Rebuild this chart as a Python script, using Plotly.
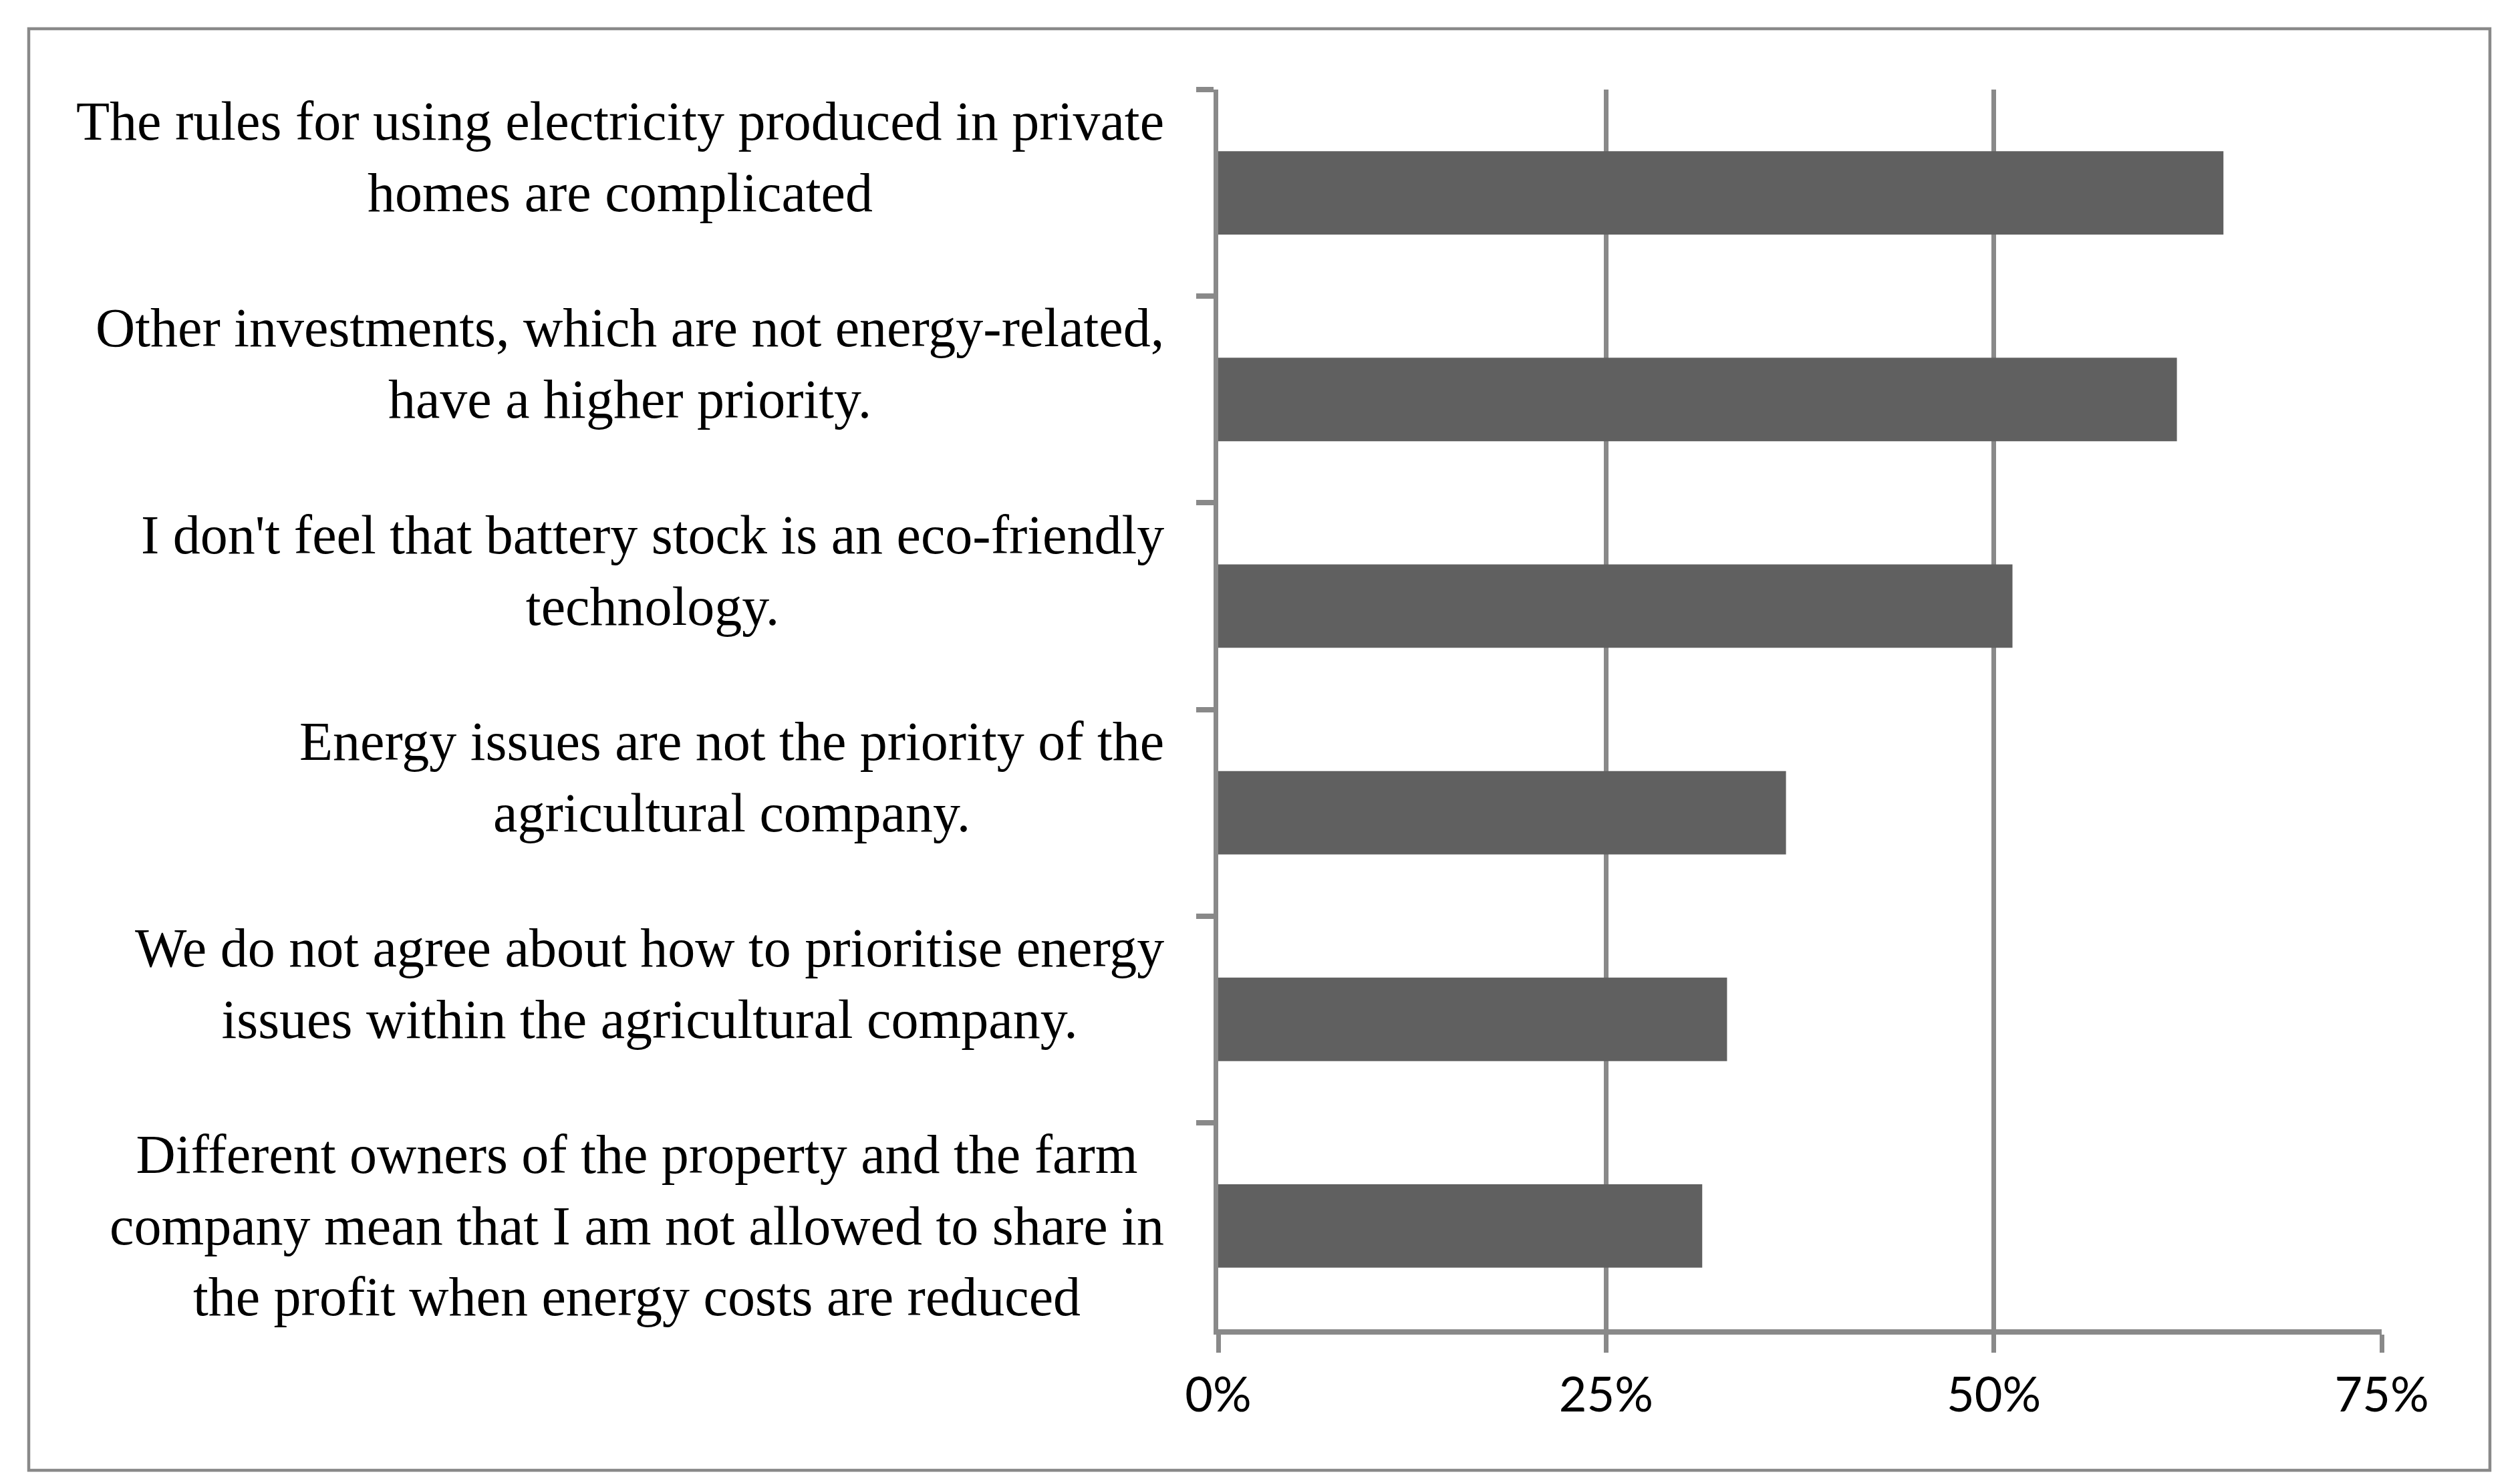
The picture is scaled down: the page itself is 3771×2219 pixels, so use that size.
import plotly.graph_objects as go

categories = [
    "The rules for using electricity produced in private<br>homes are complicated",
    "Other investments, which are not energy-related,<br>have a higher priority.",
    "I don't feel that battery stock is an eco-friendly<br>technology.",
    "Energy issues are not the priority of the<br>agricultural company.",
    "We do not agree about how to prioritise energy<br>issues within the agricultural company.",
    "Different owners of the property and the farm<br>company mean that I am not allowed to share in<br>the profit when energy costs are reduced",
]
values = [64.8, 61.8, 51.2, 36.6, 32.8, 31.2]
tick_vals = [0, 25, 50, 75]
tick_text = ["0%", "25%", "50%", "75%"]

GRAY = "#898989"
BAR = "#606060"
LABEL_SIZE = 82

fig = go.Figure()
fig.add_trace(go.Bar(
    x=values, y=categories, orientation="h",
    marker=dict(color=BAR, line=dict(width=0)),
    width=0.404, hoverinfo="skip",
))

W, H = 3771, 2219
L, R, T, B = 1814.5, 3771 - 3556, 126, 2219 - 1981
pw, ph = W - L - R, H - T - B

fig.update_layout(
    width=W, height=H,
    margin=dict(l=L, r=R, t=T, b=B, pad=0),
    paper_bgcolor="white", plot_bgcolor="white",
    showlegend=False,
    bargap=0.596,
)
fig.update_xaxes(
    range=[0, 75], tickvals=tick_vals, ticktext=tick_text,
    showgrid=True, gridcolor=GRAY, gridwidth=7,
    showline=True, linecolor=GRAY, linewidth=8,
    ticks="outside", ticklen=27, tickwidth=7, tickcolor=GRAY,
    tickfont=dict(family="Lato", size=72, color="black"),
    ticklabelstandoff=2,
    zeroline=False, fixedrange=True,
)
fig.update_yaxes(
    autorange="reversed", type="category",
    showticklabels=False,
    showline=True, linecolor=GRAY, linewidth=7,
    ticks="outside", ticklen=26, tickwidth=8, tickcolor=GRAY,
    tickson="boundaries", showgrid=False, zeroline=False, fixedrange=True,
)

for c in categories:
    nlines = c.count("<br>") + 1
    shift = 0.65 * LABEL_SIZE if nlines == 2 else 0
    fig.add_annotation(
        x=0, xref="paper", y=c, yref="y",
        text=c, showarrow=False, align="center",
        xanchor="right", yanchor="middle", xshift=-79, yshift=shift,
        font=dict(family="Liberation Serif", size=LABEL_SIZE, color="black"),
    )

fig.add_shape(
    type="rect", xref="paper", yref="paper",
    x0=(34 - L) / pw, x1=(3718 - L) / pw,
    y0=(H - B - 2192) / ph, y1=(H - B - 35) / ph,
    line=dict(color=GRAY, width=4.5), fillcolor="rgba(0,0,0,0)", layer="below",
)

fig.write_html("out.html")
